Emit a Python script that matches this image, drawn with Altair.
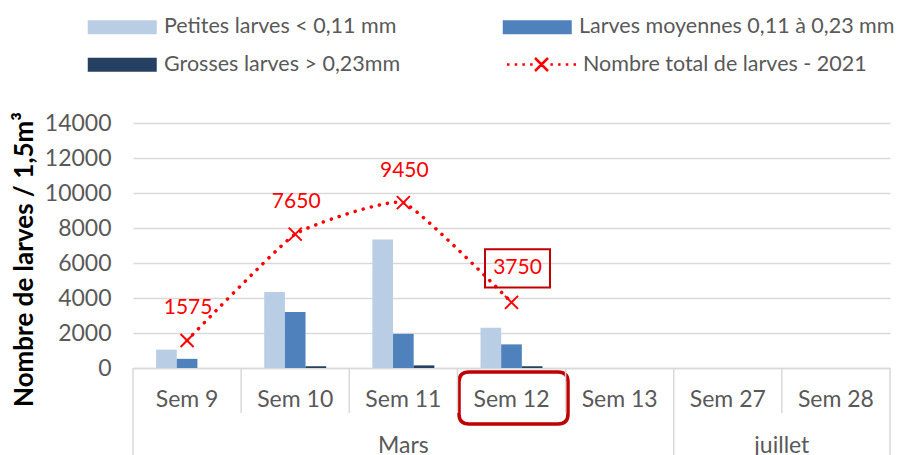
import altair as alt
import pandas as pd

# ---------------- data ----------------
categories = ["Sem 9", "Sem 10", "Sem 11", "Sem 12", "Sem 13", "Sem 27", "Sem 28"]
months = ["Mars", "Mars", "Mars", "Mars", "Mars", "juillet", "juillet"]
petites = [1050, 4350, 7350, 2300, None, None, None]
moyennes = [525, 3200, 1950, 1350, None, None, None]
grosses = [0, 100, 150, 100, None, None, None]
totals = [1575, 7650, 9450, 3750, None, None, None]
series_names = ["Petites larves < 0,11 mm", "Larves moyennes 0,11 à 0,23 mm", "Grosses larves > 0,23mm"]
series_colors = ["#B9CDE5", "#4F81BD", "#254061"]
line_name = "Nombre total de larves - 2021"
y_ticks = [0, 2000, 4000, 6000, 8000, 10000, 12000, 14000]
y_title = "Nombre de larves / 1,5m³"
highlight = "Sem 12"

# ---------------- tables ----------------
rows = []
for s, vals in zip(series_names, [petites, moyennes, grosses]):
    for c, v in zip(categories, vals):
        if v is not None:
            rows.append({"cat": c, "serie": s, "val": v})
bars_df = pd.DataFrame(rows)

tot_df = pd.DataFrame([{"cat": c, "total": t, "serie": line_name}
                       for c, t in zip(categories, totals) if t is not None])
hl_df = tot_df[tot_df["cat"] == highlight]
lab_df = tot_df[tot_df["cat"] != highlight]

n = len(categories)
bound_rows = []
for i in range(n + 1):
    edge = i == 0 or i == n or months[i] != months[i - 1]
    bound_rows.append({"pos": i - 0.5, "long": edge})
bounds_df = pd.DataFrame(bound_rows)
month_rows = []
for m in dict.fromkeys(months):
    idx = [i for i, mm in enumerate(months) if mm == m]
    month_rows.append({"month": m, "pos": (idx[0] + idx[-1]) / 2})
month_df = pd.DataFrame(month_rows)

# legend is filled column by column: order the colour domain so that it reads row by row
ncols = 2
nrows = -(-len(series_names) // ncols)
legend_order = [series_names[r * ncols + c] for c in range(ncols) for r in range(nrows)
                if r * ncols + c < len(series_names)]
legend_colors = [series_colors[series_names.index(s)] for s in legend_order]

# ---------------- style ----------------
FONT = "Lato"
FS = 23
LFS = 21.5
DFS = 21
GREY = "#595959"
GRID = "#D9D9D9"
RED = "#FF0000"
DARKRED = "#C00000"
W, H = 757, 245

xscale = alt.Scale(domain=categories, paddingInner=0.427, paddingOuter=0.2135)
xaxis = alt.Axis(title=None, labelAngle=0, labelFont=FONT, labelFontSize=FS, labelColor=GREY,
                 labelPadding=20, ticks=False, domainColor=GRID, domainWidth=1.5, grid=False)
yscale = alt.Scale(domain=[0, 14000], nice=False)
yaxis = alt.Axis(values=y_ticks, format="d", title=y_title, titleFont=FONT, titleFontSize=26,
                 titleFontWeight="bold", titleColor="#000000", titlePadding=7, titleY=136,
                 labelFont=FONT, labelFontSize=FS, labelColor=GREY, labelPadding=22,
                 ticks=False, domain=False, grid=True, gridColor=GRID, gridWidth=1.5)

X = alt.X("cat:N", scale=xscale, axis=xaxis)

# legend symbols: unit = 10 px (symbolSize 400)
bar_legend = alt.Legend(title=None, orient="none", legendX=-46, legendY=-107, columns=ncols,
                        columnPadding=101, rowPadding=15, padding=0,
                        symbolType="M-3.45,-0.7H3.45V0.7H-3.45Z", symbolSize=400, symbolStrokeWidth=0,
                        symbolOffset=24.5, labelOffset=31, labelFont=FONT, labelFontSize=LFS,
                        labelColor=GREY, labelLimit=500)

dot_pos = [-3.45, -2.68, -1.91, -1.14, 0.89, 1.66, 2.43, 3.20]
line_symbol = "".join(f"M{p:.2f},0h0.25" for p in dot_pos) + "M-0.65,-0.65L0.65,0.65M-0.65,0.65L0.65,-0.65"
line_legend = alt.Legend(title=None, orient="none", legendX=374, legendY=-70, padding=0,
                         symbolType=line_symbol, symbolSize=400, symbolStrokeWidth=2.5,
                         symbolStrokeColor=RED, symbolOffset=23, labelOffset=30,
                         labelFont=FONT, labelFontSize=LFS, labelColor=GREY, labelLimit=500)

# ---------------- layers ----------------
bars = alt.Chart(bars_df).mark_bar().encode(
    x=X,
    xOffset=alt.XOffset("serie:N", scale=alt.Scale(domain=series_names, paddingInner=0, paddingOuter=0)),
    y=alt.Y("val:Q", scale=yscale, axis=yaxis),
    color=alt.Color("serie:N", scale=alt.Scale(domain=legend_order, range=legend_colors), legend=bar_legend),
)

line = alt.Chart(tot_df).mark_line(strokeWidth=3.5, strokeDash=[0.1, 8.2], strokeCap="round",
                                   interpolate="cardinal", tension=0.6).encode(
    x=X,
    y=alt.Y("total:Q", scale=yscale, axis=yaxis),
    stroke=alt.Stroke("serie:N", scale=alt.Scale(domain=[line_name], range=[RED]), legend=line_legend),
)

points = alt.Chart(tot_df).mark_point(shape="M-1,-1L1,1M-1,1L1,-1", size=169, filled=False,
                                      color=RED, strokeWidth=2, opacity=1).encode(
    x=X, y=alt.Y("total:Q", scale=yscale, axis=yaxis))

labels = alt.Chart(lab_df).mark_text(font=FONT, fontSize=DFS, color=RED, dx=1, dy=-32,
                                     baseline="middle").encode(
    x=X, y=alt.Y("total:Q", scale=yscale, axis=yaxis), text=alt.Text("total:Q", format="d"))

hl_label = alt.Chart(hl_df).mark_text(font=FONT, fontSize=DFS, color=RED, dx=6, dy=-34,
                                      baseline="middle").encode(
    x=X, y=alt.Y("total:Q", scale=yscale, axis=yaxis), text=alt.Text("total:Q", format="d"))

hl_box = alt.Chart(hl_df).mark_point(shape="M-1,-0.585H1V0.585H-1Z", size=4225, filled=False,
                                     color=DARKRED, strokeWidth=2, opacity=1,
                                     xOffset=6, yOffset=-34).encode(
    x=X, y=alt.Y("total:Q", scale=yscale, axis=yaxis))

rr = "M-8.9,-5.2H8.9Q10.9,-5.2 10.9,-3.2V3.2Q10.9,5.2 8.9,5.2H-8.9Q-10.9,5.2 -10.9,3.2V-3.2Q-10.9,-5.2 -8.9,-5.2Z"
axis_box = alt.Chart(hl_df).mark_point(shape=rr, size=100, filled=False, color=DARKRED,
                                       strokeWidth=3.5, opacity=1, xOffset=2).encode(
    x=X, y=alt.value(H + 30))

main = alt.layer(bars, line, points, labels, hl_box, hl_label, axis_box)

xq = alt.X("pos:Q", scale=alt.Scale(domain=[-0.5, n - 0.5], nice=False, zero=False), axis=None)
short_rules = alt.Chart(bounds_df[~bounds_df["long"]]).mark_rule(color=GRID, strokeWidth=1.5).encode(
    x=xq, y=alt.value(H), y2=alt.value(H + 45))
long_rules = alt.Chart(bounds_df[bounds_df["long"]]).mark_rule(color=GRID, strokeWidth=1.5).encode(
    x=xq, y=alt.value(H), y2=alt.value(H + 140))
month_text = alt.Chart(month_df).mark_text(font=FONT, fontSize=FS, color=GREY, baseline="middle").encode(
    x=xq, y=alt.value(H + 78), text="month:N")

chart = alt.layer(main, short_rules, long_rules, month_text).resolve_scale(
    x="independent"
).properties(
    width=W, height=H,
    padding={"left": 125, "top": 115, "right": 14, "bottom": 87},
    autosize=alt.AutoSizeParams(type="none"),
).configure_view(stroke=None)

chart.save("out.html", embed_options={"renderer": "svg", "actions": False})
